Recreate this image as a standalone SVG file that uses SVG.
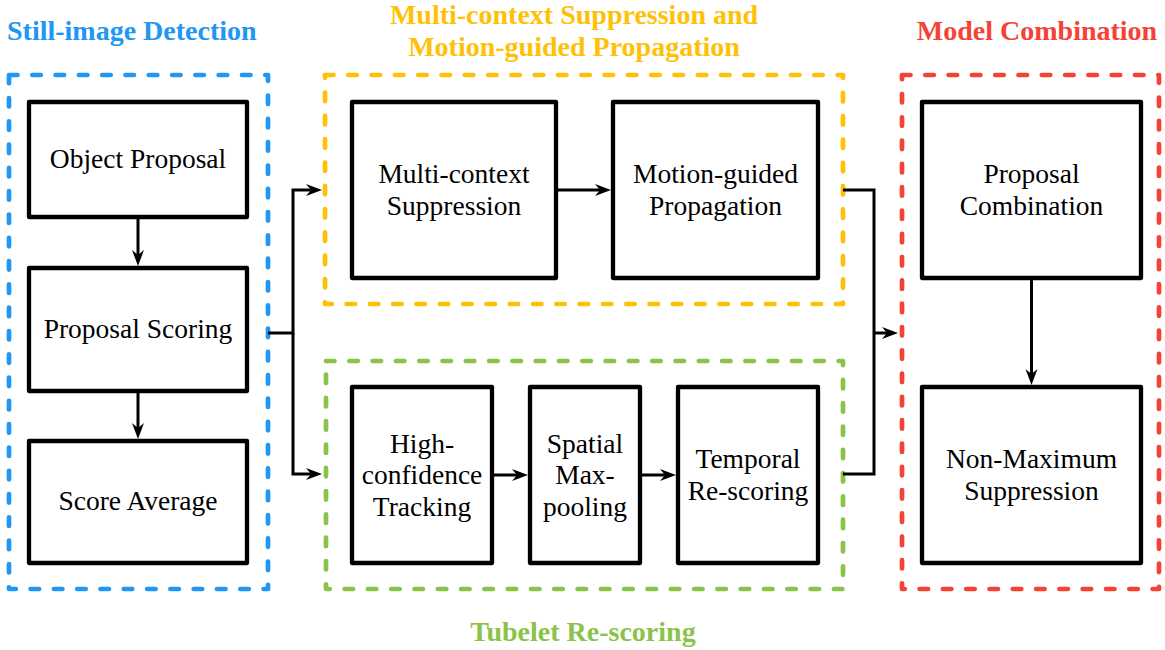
<svg xmlns="http://www.w3.org/2000/svg" width="1165" height="650" viewBox="0 0 1165 650">
  <defs>
    <marker id="arrow" markerUnits="userSpaceOnUse" markerWidth="18" markerHeight="14" viewBox="0 -7 18 14" refX="8" refY="0" orient="auto">
      <path d="M0,-6 L16,0 L0,6 L5,0 Z" fill="#000"/>
    </marker>
  </defs>
  <style>
    .box { fill: #fff; stroke: #000; stroke-width: 4.3; stroke-linejoin: round; }
    .grp { fill: none; stroke-width: 4.7; stroke-linecap: round; stroke-linejoin: round; stroke-dasharray: 8.5 14.8; }
    .lbl { font-family: "Liberation Serif", "Times New Roman", serif; font-size: 27.5px; fill: #000; text-anchor: middle; }
    .ttl { font-family: "Liberation Serif", "Times New Roman", serif; font-size: 28px; font-weight: bold; }
    .wire { fill: none; stroke: #000; stroke-width: 3; }
    .blue { stroke: #2196F3; } .yellow { stroke: #FFC107; } .green { stroke: #8BC34A; } .red { stroke: #F44336; }
  </style>
  <rect width="1165" height="650" fill="#fff"/>

  <!-- stage frames -->
  <g id="frames">
    <rect class="grp blue" x="9" y="75" width="259" height="514"/>
    <rect class="grp yellow" x="325" y="75" width="518" height="229"/>
    <rect class="grp green" x="326" y="361" width="517" height="228"/>
    <rect class="grp red" x="902" y="75" width="257" height="514"/>
  </g>

  <!-- stage titles -->
  <g id="titles" class="ttl">
    <text x="7" y="40" fill="#2196F3">Still-image Detection</text>
    <text x="574" y="24" fill="#FFC107" text-anchor="middle">Multi-context Suppression and</text>
    <text x="574" y="56" fill="#FFC107" text-anchor="middle">Motion-guided Propagation</text>
    <text x="1037" y="40" fill="#F44336" text-anchor="middle">Model Combination</text>
    <text x="583" y="641" fill="#8BC34A" text-anchor="middle">Tubelet Re-scoring</text>
  </g>

  <!-- connectors -->
  <g id="connectors" class="wire">
    <path d="M138,219 V258" marker-end="url(#arrow)"/>
    <path d="M138,393 V431" marker-end="url(#arrow)"/>
    <path d="M268,333 H293 V190 H314" marker-end="url(#arrow)"/>
    <path d="M293,333 V474 H314" marker-end="url(#arrow)"/>
    <path d="M558,190 H603" marker-end="url(#arrow)"/>
    <path d="M494,475 H520" marker-end="url(#arrow)"/>
    <path d="M642,475 H668" marker-end="url(#arrow)"/>
    <path d="M843,190 H874 V474 H843"/>
    <path d="M874,333 H890" marker-end="url(#arrow)"/>
    <path d="M1031.5,280 V377" marker-end="url(#arrow)"/>
  </g>

  <!-- still-image detection -->
  <g id="object-proposal">
    <rect class="box" x="29" y="102" width="218" height="115"/>
    <text class="lbl" x="138" y="168">Object Proposal</text>
  </g>
  <g id="proposal-scoring">
    <rect class="box" x="29" y="268" width="218" height="123"/>
    <text class="lbl" x="138" y="338">Proposal Scoring</text>
  </g>
  <g id="score-average">
    <rect class="box" x="29" y="441" width="218" height="122"/>
    <text class="lbl" x="138" y="510">Score Average</text>
  </g>

  <!-- suppression and propagation -->
  <g id="multi-context-suppression">
    <rect class="box" x="352" y="102" width="204" height="176"/>
    <text class="lbl" x="454" y="183">Multi-context</text>
    <text class="lbl" x="454" y="215">Suppression</text>
  </g>
  <g id="motion-guided-propagation">
    <rect class="box" x="613" y="102" width="205" height="176"/>
    <text class="lbl" x="715.5" y="183">Motion-guided</text>
    <text class="lbl" x="715.5" y="215">Propagation</text>
  </g>

  <!-- tubelet re-scoring -->
  <g id="high-confidence-tracking">
    <rect class="box" x="352" y="387" width="140" height="176"/>
    <text class="lbl" x="422" y="453">High-</text>
    <text class="lbl" x="422" y="484">confidence</text>
    <text class="lbl" x="422" y="515.5">Tracking</text>
  </g>
  <g id="spatial-max-pooling">
    <rect class="box" x="530" y="387" width="110" height="176"/>
    <text class="lbl" x="585" y="453">Spatial</text>
    <text class="lbl" x="585" y="484">Max-</text>
    <text class="lbl" x="585" y="515.5">pooling</text>
  </g>
  <g id="temporal-re-scoring">
    <rect class="box" x="678" y="387" width="140" height="176"/>
    <text class="lbl" x="748" y="468">Temporal</text>
    <text class="lbl" x="748" y="499.5">Re-scoring</text>
  </g>

  <!-- model combination -->
  <g id="proposal-combination">
    <rect class="box" x="922" y="102" width="219" height="176"/>
    <text class="lbl" x="1031.5" y="183">Proposal</text>
    <text class="lbl" x="1031.5" y="215">Combination</text>
  </g>
  <g id="non-maximum-suppression">
    <rect class="box" x="922" y="387" width="219" height="176"/>
    <text class="lbl" x="1031.5" y="468">Non-Maximum</text>
    <text class="lbl" x="1031.5" y="499.5">Suppression</text>
  </g>
</svg>
